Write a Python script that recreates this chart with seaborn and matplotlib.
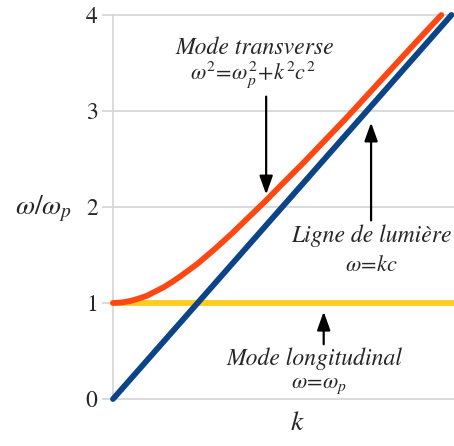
import numpy as np
import pandas as pd
import seaborn as sns
import matplotlib
matplotlib.use("Agg")
import matplotlib.pyplot as plt

# values
k_transverse = [0.0, 0.1, 0.2, 0.3, 0.4, 0.5, 0.6, 0.7, 0.8, 0.9, 1.0, 1.2, 1.4, 1.6,
                1.8, 2.0, 2.25, 2.5, 2.75, 3.0, 3.25, 3.5, 3.7, 3.88]
w_transverse = [1.0, 1.005, 1.02, 1.045, 1.075, 1.12, 1.165, 1.22, 1.28, 1.345, 1.41, 1.56, 1.72, 1.89,
                2.06, 2.24, 2.46, 2.69, 2.92, 3.16, 3.40, 3.64, 3.83, 4.0]
k_light = [0.0, 4.0]
w_light = [0.0, 4.0]
k_longi = [0.0, 4.03]
w_longi = [1.0, 1.0]
y_ticks = [0, 1, 2, 3, 4]

sns.set_style("white")
plt.rcParams["font.family"] = ["STIXGeneral", "Liberation Serif", "DejaVu Serif"]
plt.rcParams["mathtext.fontset"] = "stix"

fig = plt.figure(figsize=(4.54, 4.46), dpi=100)
ax = fig.add_axes([113 / 454, 47 / 446, 341 / 454, 384 / 446])

grid_col = "#d4d4d4"
for y in y_ticks:
    ax.axhline(y, color=grid_col, lw=1.2, zorder=0, clip_on=False)

sns.lineplot(x=k_longi, y=w_longi, color="#ffcc1f", lw=4.2, ax=ax, zorder=2, clip_on=False)
sns.lineplot(x=k_light, y=w_light, color="#0c4587", lw=4.2, ax=ax, zorder=3, clip_on=False)
sns.lineplot(x=k_transverse, y=w_transverse, color="#ff4714", lw=4.2, ax=ax, zorder=4,
             clip_on=False, sort=True)

ax.set_xlim(0, 4.03)
ax.set_ylim(0, 4)
ax.set_xticks([])
ax.set_yticks(y_ticks)
ax.set_yticklabels([str(v) for v in y_ticks], fontsize=17)
ax.tick_params(axis="y", length=8, width=1.2, color=grid_col, pad=3, left=True)
for s in ["top", "right", "bottom"]:
    ax.spines[s].set_visible(False)
ax.spines["left"].set_color(grid_col)
ax.spines["left"].set_linewidth(1.2)

ax.set_ylabel(r"$\omega/\omega_p$", fontsize=20, rotation=0, va="center", ha="center")
ax.yaxis.set_label_coords(-0.205, 0.495)
ax.set_xlabel(r"$k$", fontsize=20, va="top")
ax.xaxis.set_label_coords(0.54, -0.03)

tfont = dict(fontsize=17, style="italic", ha="center", va="center")
ax.text(1.68, 3.66, "Mode transverse", **tfont)
ax.text(1.65, 3.375, r"$\omega^2\!=\!\omega_p^2\!+\!k^2c^2$", fontsize=16, ha="center", va="center")
ax.text(3.05, 1.70, "Ligne de lumière", **tfont)
ax.text(3.05, 1.385, r"$\omega\!=\!kc$", fontsize=16, ha="center", va="center")
ax.text(2.385, 0.417, "Mode longitudinal", **tfont)
ax.text(2.43, 0.135, r"$\omega\!=\!\omega_p$", fontsize=16, ha="center", va="center")

arrow = dict(arrowstyle="-|>,head_length=0.7,head_width=0.25", color="black", lw=1.6,
             mutation_scale=16, shrinkA=0, shrinkB=0)
ax.annotate("", xy=(1.81, 2.13), xytext=(1.81, 3.15), arrowprops=arrow)
ax.annotate("", xy=(3.05, 2.88), xytext=(3.05, 1.86), arrowprops=arrow)
ax.annotate("", xy=(2.49, 0.91), xytext=(2.49, 0.57), arrowprops=arrow)

fig.savefig("out.png", dpi=100)
